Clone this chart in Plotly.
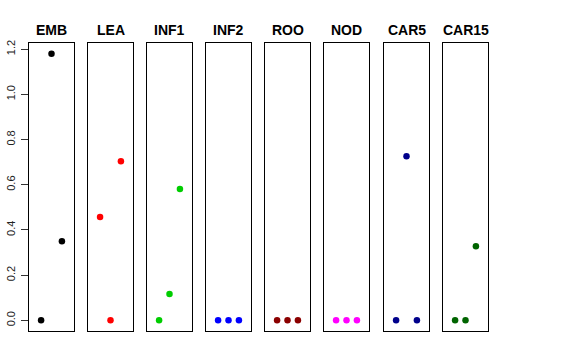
import plotly.graph_objects as go

panels = ["EMB", "LEA", "INF1", "INF2", "ROO", "NOD", "CAR5", "CAR15"]
colors = ["#000000", "#FF0000", "#00CD00", "#0000FF", "#8B0000", "#FF00FF", "#00008B", "#006400"]
x_pos = [1, 2, 3]
values = [
    [0.0, 1.18, 0.35],
    [0.457, 0.0, 0.704],
    [0.0, 0.117, 0.581],
    [0.0, 0.0, 0.0],
    [0.0, 0.0, 0.0],
    [0.0, 0.0, 0.0],
    [0.0, 0.726, 0.0],
    [0.0, 0.0, 0.328],
]
y_ticks = [0.0, 0.2, 0.4, 0.6, 0.8, 1.0, 1.2]
y_tick_labels = ["0.0", "0.2", "0.4", "0.6", "0.8", "1.0", "1.2"]

W, H = 576, 360
lefts = [29, 88, 147, 206, 265, 324, 384, 443]
pw = 45
ML, MR, MT, MB = 29, 576 - 488, 43, 29
PW = W - ML - MR
PH = H - MT - MB
ymax = 1.18
ext = 0.04 * ymax
yr = [0 - ext, ymax + ext]
xr = [0 - 0.16, 4 + 0.16]

fig = go.Figure()
layout = dict(
    width=W, height=H, margin=dict(l=ML, r=MR, t=MT, b=MB, pad=0, autoexpand=False),
    plot_bgcolor="white", paper_bgcolor="white", showlegend=False,
    font=dict(family="Liberation Sans, Arial, sans-serif", color="black"),
)
annotations = []
for i, (name, col, vals) in enumerate(zip(panels, colors, values)):
    n = i + 1
    xa = "x" if n == 1 else f"x{n}"
    ya = "y" if n == 1 else f"y{n}"
    fig.add_trace(go.Scatter(x=x_pos, y=vals, mode="markers", xaxis=xa, yaxis=ya,
                             marker=dict(color=col, size=6.5, line=dict(width=0)),
                             hoverinfo="skip", cliponaxis=False))
    x0 = (lefts[i] - ML) / PW
    x1 = min(1.0, (lefts[i] + pw - ML) / PW)
    layout["xaxis" if n == 1 else f"xaxis{n}"] = dict(
        domain=[x0, x1], range=xr, showticklabels=False, ticks="", showgrid=False,
        zeroline=False, showline=True, linecolor="black", linewidth=1, mirror=True,
        anchor=ya, fixedrange=True, automargin=False)
    yd = dict(
        domain=[0, 1], range=yr, showgrid=False,
        zeroline=False, showline=True, linecolor="black", linewidth=1, mirror=True,
        anchor=xa, fixedrange=True, automargin=False)
    if n == 1:
        yd.update(tickvals=y_ticks, ticktext=y_tick_labels, ticks="outside",
                  ticklen=7, tickcolor="#333333", tickwidth=1, tickangle=-90,
                  tickfont=dict(size=11, color="#222222"), ticklabelstandoff=2)
    else:
        yd.update(showticklabels=False, ticks="")
    layout["yaxis" if n == 1 else f"yaxis{n}"] = yd
    annotations.append(dict(
        text=f"<b>{name}</b>", x=(lefts[i] + pw / 2 - ML) / PW, y=(H - MB - 30) / PH,
        xref="paper", yref="paper", showarrow=False, xanchor="center", yanchor="middle",
        font=dict(size=14, color="black")))
layout["annotations"] = annotations
fig.update_layout(**layout)
fig.write_html("out.html", config={"displayModeBar": False, "staticPlot": True},
               post_script="document.body.style.margin='0';document.body.style.padding='0';")
